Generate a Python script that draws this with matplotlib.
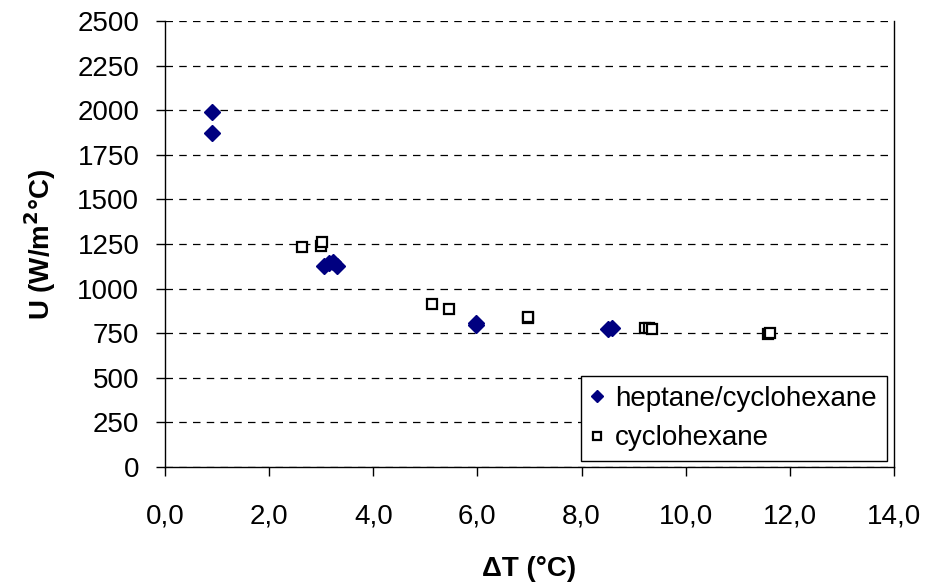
import numpy as np
import matplotlib
matplotlib.use("Agg")
import matplotlib.pyplot as plt
from matplotlib.ticker import FuncFormatter

plt.rcParams['font.family'] = ['Liberation Sans', 'DejaVu Sans']

# heptane/cyclohexane mixture
dt_mix = [0.90, 0.90, 3.05, 3.15, 3.22, 3.30, 5.97, 5.97, 8.50, 8.58]
u_mix = [1990, 1872, 1125, 1145, 1150, 1125, 807, 795, 772, 780]

# pure cyclohexane
dt_cyc = [2.64, 2.99, 3.02, 5.12, 5.46, 6.97, 6.97, 9.22, 9.30, 9.36, 11.58, 11.62]
u_cyc = [1233, 1240, 1263, 914, 886, 837, 843, 780, 777, 774, 745, 752]

x_ticks = np.arange(0, 14.01, 2.0)
y_ticks = np.arange(0, 2501, 250)

FS = 20

fig = plt.figure(figsize=(9.29, 5.87), dpi=100)
ax = fig.add_axes([165 / 929, 1 - 467 / 587, (894 - 165) / 929, (467 - 21) / 587])

ax.plot(dt_mix, u_mix, linestyle='none', marker='D', markersize=8.5,
        color='#000080', markeredgecolor='#000080', label='heptane/cyclohexane', zorder=3)
ax.plot(dt_cyc, u_cyc, linestyle='none', marker='s', markersize=7,
        markerfacecolor='white', markeredgecolor='black', markeredgewidth=1.6,
        label='cyclohexane', zorder=3)

ax.set_xlim(0, 14)
ax.set_ylim(0, 2500)
ax.set_xticks(x_ticks)
ax.set_yticks(y_ticks)
ax.xaxis.set_major_formatter(FuncFormatter(lambda v, p: f"{v:.1f}".replace('.', ',')))
ax.yaxis.grid(True, linestyle=(0, (6, 5)), color='black', linewidth=0.9)
ax.set_axisbelow(True)

ax.spines['top'].set_visible(False)
for s in ['left', 'bottom', 'right']:
    ax.spines[s].set_color('black')
    ax.spines[s].set_linewidth(1.0)

ax.tick_params(axis='both', direction='out', length=6.5, width=1, labelsize=FS, colors='black')
ax.tick_params(axis='x', pad=20)
ax.tick_params(axis='y', pad=12)

ax.set_xlabel('ΔT (°C)', fontsize=FS, fontweight='bold', labelpad=19)
ax.set_ylabel('U (W/m$^\\mathbf{2}$°C)', fontsize=FS, fontweight='bold', labelpad=14)

leg = ax.legend(loc='lower right', bbox_to_anchor=(0.990, 0.013), borderaxespad=0,
                fontsize=FS, frameon=True, fancybox=False, edgecolor='black', framealpha=1,
                handlelength=0.45, handletextpad=0.45, borderpad=0.35, labelspacing=0.5,
                markerscale=0.75)
leg.get_frame().set_linewidth(1.0)

fig.savefig('out.png', dpi=100)
